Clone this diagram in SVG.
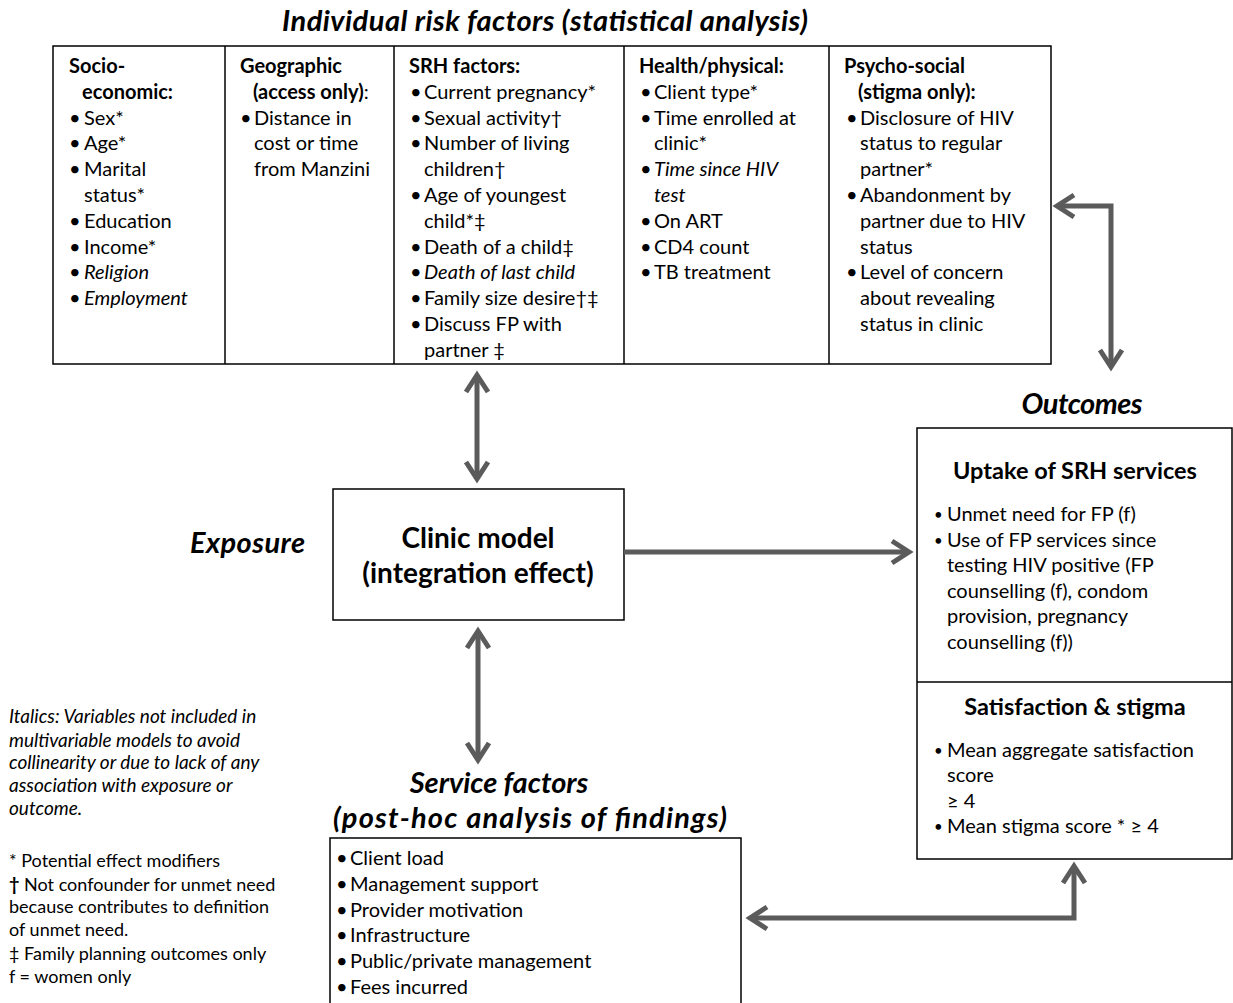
<svg xmlns="http://www.w3.org/2000/svg" width="1233" height="1003" viewBox="0 0 1233 1003">
  <style>
    text { font-family: Lato, "Liberation Sans", sans-serif; fill: #000; }
    .t { font-size: 20px; }
    .b { font-weight: bold; }
    .i { font-style: italic; }
    .h { font-size: 29px; font-weight: bold; font-style: italic; }
    .big { font-size: 28px; font-weight: bold; }
    .sub { font-size: 23.5px; font-weight: bold; }
    .note { font-size: 18px; }
    .note .i { font-size: 19px; }
    .box { fill: #fff; stroke: #000; stroke-width: 1.5; }
    .div { stroke: #000; stroke-width: 1.5; }
    .arrow { fill: none; stroke: #5b5b5b; stroke-width: 5; marker-start: url(#ah); marker-end: url(#ah); }
    .arrow1 { fill: none; stroke: #5b5b5b; stroke-width: 5; marker-end: url(#ah); }
    .mid { text-anchor: middle; }
    .sb { font-size: 15px; }
  </style>
  <defs>
    <marker id="ah" markerUnits="userSpaceOnUse" markerWidth="40" markerHeight="40" viewBox="-25 -20 40 40" refX="0" refY="0" orient="auto-start-reverse" overflow="visible">
      <path d="M-17,-11 L0,0 L-17,11" fill="none" stroke="#5b5b5b" stroke-width="5" stroke-linejoin="miter"/>
    </marker>
  </defs>

  <rect width="1233" height="1003" fill="#fff"/>

  <!-- Section labels -->
  <text class="h mid" x="545" y="31" textLength="526">Individual risk factors (statistical analysis)</text>
  <text class="h" x="190" y="553" textLength="115">Exposure</text>
  <text class="h mid" x="1082" y="414" textLength="121">Outcomes</text>

  <!-- Individual risk factors table -->
  <g id="risk-factors">
    <rect class="box" x="53" y="46" width="998" height="318"/>
    <line class="div" x1="225" y1="46" x2="225" y2="364"/>
    <line class="div" x1="394" y1="46" x2="394" y2="364"/>
    <line class="div" x1="624" y1="46" x2="624" y2="364"/>
    <line class="div" x1="829" y1="46" x2="829" y2="364"/>

    <g id="socio-economic" class="t">
      <text class="b" x="69" y="73">Socio-</text>
      <text class="b" x="82" y="99">economic:</text>
      <text x="69" y="125">•</text><text x="84" y="125">Sex*</text>
      <text x="69" y="150">•</text><text x="84" y="150">Age*</text>
      <text x="69" y="176">•</text><text x="84" y="176">Marital</text>
      <text x="84" y="202">status*</text>
      <text x="69" y="228">•</text><text x="84" y="228">Education</text>
      <text x="69" y="254">•</text><text x="84" y="254">Income*</text>
      <text x="69" y="279">•</text><text class="i" x="84" y="279">Religion</text>
      <text x="69" y="305">•</text><text class="i" x="84" y="305">Employment</text>
    </g>

    <g id="geographic" class="t">
      <text class="b" x="240" y="73">Geographic</text>
      <text x="253" y="99"><tspan class="b">(access only)</tspan>:</text>
      <text x="240" y="125">•</text><text x="254" y="125">Distance in</text>
      <text x="254" y="150">cost or time</text>
      <text x="254" y="176">from Manzini</text>
    </g>

    <g id="srh-factors" class="t">
      <text class="b" x="409" y="73">SRH factors:</text>
      <text x="410" y="99">•</text><text x="424" y="99">Current pregnancy*</text>
      <text x="410" y="125">•</text><text x="424" y="125">Sexual activity†</text>
      <text x="410" y="150">•</text><text x="424" y="150">Number of living</text>
      <text x="424" y="176">children†</text>
      <text x="410" y="202">•</text><text x="424" y="202">Age of youngest</text>
      <text x="424" y="228">child*‡</text>
      <text x="410" y="254">•</text><text x="424" y="254">Death of a child‡</text>
      <text x="410" y="279">•</text><text class="i" x="424" y="279">Death of last child</text>
      <text x="410" y="305">•</text><text x="424" y="305">Family size desire†‡</text>
      <text x="410" y="331">•</text><text x="424" y="331">Discuss FP with</text>
      <text x="424" y="357">partner ‡</text>
    </g>

    <g id="health-physical" class="t">
      <text class="b" x="639" y="73">Health/physical:</text>
      <text x="640" y="99">•</text><text x="654" y="99">Client type*</text>
      <text x="640" y="125">•</text><text x="654" y="125">Time enrolled at</text>
      <text x="654" y="150">clinic*</text>
      <text x="640" y="176">•</text><text class="i" x="654" y="176">Time since HIV</text>
      <text class="i" x="654" y="202">test</text>
      <text x="640" y="228">•</text><text x="654" y="228">On ART</text>
      <text x="640" y="254">•</text><text x="654" y="254">CD4 count</text>
      <text x="640" y="279">•</text><text x="654" y="279">TB treatment</text>
    </g>

    <g id="psycho-social" class="t">
      <text class="b" x="844" y="73">Psycho-social</text>
      <text class="b" x="858" y="99">(stigma only):</text>
      <text x="846" y="125">•</text><text x="860" y="125">Disclosure of HIV</text>
      <text x="860" y="150">status to regular</text>
      <text x="860" y="176">partner*</text>
      <text x="846" y="202">•</text><text x="860" y="202">Abandonment by</text>
      <text x="860" y="228">partner due to HIV</text>
      <text x="860" y="254">status</text>
      <text x="846" y="279">•</text><text x="860" y="279">Level of concern</text>
      <text x="860" y="305">about revealing</text>
      <text x="860" y="331">status in clinic</text>
    </g>
  </g>

  <!-- Exposure: clinic model -->
  <g id="clinic-model">
    <rect class="box" x="333" y="489" width="291" height="131"/>
    <text class="big mid" x="478" y="548">Clinic model</text>
    <text class="big mid" x="478" y="583">(integration effect)</text>
  </g>

  <!-- Outcomes -->
  <g id="outcomes">
    <rect class="box" x="917" y="428" width="315" height="431"/>
    <line class="div" x1="917" y1="682" x2="1232" y2="682"/>
    <text class="sub mid" x="1075" y="479">Uptake of SRH services</text>
    <g class="t">
      <text class="sb" x="934" y="520">•</text><text x="947" y="521">Unmet need for FP (f)</text>
      <text class="sb" x="934" y="546">•</text><text x="947" y="547">Use of FP services since</text>
      <text x="947" y="572">testing HIV positive  (FP</text>
      <text x="947" y="598">counselling (f), condom</text>
      <text x="947" y="623">provision, pregnancy</text>
      <text x="947" y="649">counselling (f))</text>
    </g>
    <text class="sub mid" x="1075" y="715" font-size="24">Satisfaction &amp; stigma</text>
    <g class="t">
      <text class="sb" x="934" y="756">•</text><text x="947" y="757">Mean aggregate  satisfaction</text>
      <text x="947" y="782">score</text>
      <text x="947" y="808">≥ 4</text>
      <text class="sb" x="934" y="832">•</text><text x="947" y="833">Mean stigma  score * ≥ 4</text>
    </g>
  </g>

  <!-- Service factors -->
  <g id="service-factors">
    <text class="h mid" x="499" y="793" font-size="26">Service factors</text>
    <text class="h mid" x="530" y="828" font-size="30" textLength="394">(post-hoc analysis of findings)</text>
    <rect class="box" x="330" y="838" width="411" height="172"/>
    <g class="t">
      <text x="336" y="865">•</text><text x="350" y="865">Client load</text>
      <text x="336" y="891">•</text><text x="350" y="891">Management support</text>
      <text x="336" y="917">•</text><text x="350" y="917">Provider motivation</text>
      <text x="336" y="942">•</text><text x="350" y="942">Infrastructure</text>
      <text x="336" y="968">•</text><text x="350" y="968">Public/private management</text>
      <text x="336" y="994">•</text><text x="350" y="994">Fees incurred</text>
    </g>
  </g>

  <!-- Key -->
  <g id="key" class="note">
    <text class="i" x="9" y="723">Italics: Variables not included in</text>
    <text class="i" x="9" y="747">multivariable models to avoid</text>
    <text class="i" x="9" y="769">collinearity or due to lack of any</text>
    <text class="i" x="9" y="792">association with exposure or</text>
    <text class="i" x="9" y="815">outcome.</text>
    <text x="9" y="867">* Potential effect modifiers</text>
    <text x="9" y="891"><tspan class="b">†</tspan> Not confounder  for unmet need</text>
    <text x="9" y="913">because contributes to definition</text>
    <text x="9" y="936">of unmet need.</text>
    <text x="9" y="960">‡  Family planning outcomes only</text>
    <text x="9" y="983">f = women only</text>
  </g>

  <!-- Connectors -->
  <g id="connectors">
    <path class="arrow" d="M477,375 L477,479"/>
    <path class="arrow1" d="M624,552 L909,552"/>
    <path class="arrow" d="M478,631 L478,760"/>
    <path class="arrow" d="M750,918 L1074,918 L1074,866"/>
    <path class="arrow" d="M1057,206 L1111,206 L1111,367"/>
  </g>
</svg>
